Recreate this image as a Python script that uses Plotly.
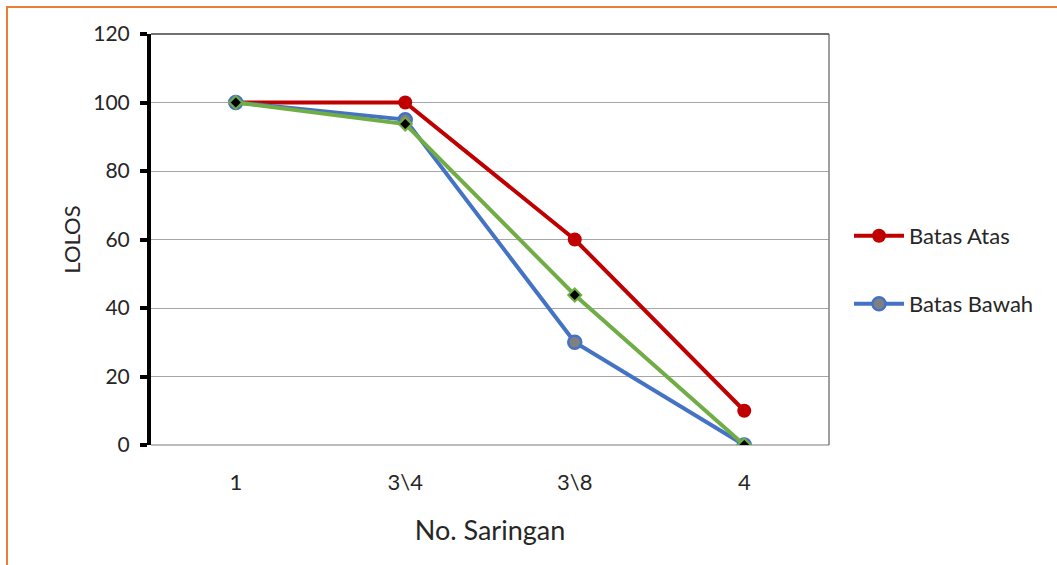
import plotly.graph_objects as go

categories = ["1", "3\\4", "3\\8", "4"]
batas_atas = [100, 100, 60, 10]
batas_bawah = [100, 95, 30, 0]
hasil = [100, 93.7, 43.8, 0]
y_ticks = [0, 20, 40, 60, 80, 100, 120]

FONT = "Lato, 'Open Sans', sans-serif"
L, R, T, B = 151, 1057 - 829, 34, 565 - 445
W, H = 1057, 565
pw, ph = W - L - R, H - T - B

fig = go.Figure()
fig.add_trace(go.Scatter(
    x=categories, y=batas_atas, name="Batas Atas", mode="lines+markers",
    line=dict(color="#C00000", width=4),
    marker=dict(symbol="circle", size=14, color="#C00000"),
    legend="legend",
))
fig.add_trace(go.Scatter(
    x=categories, y=batas_bawah, name="Batas Bawah", mode="lines+markers",
    line=dict(color="#4472C4", width=4),
    marker=dict(symbol="circle", size=13, color="#808080", line=dict(color="#4472C4", width=2.5)),
    legend="legend2",
))
fig.add_trace(go.Scatter(
    x=categories, y=hasil, name="Hasil", mode="lines+markers",
    line=dict(color="#70AD47", width=4),
    marker=dict(symbol="diamond", size=10, color="#000000", line=dict(color="#70AD47", width=2)),
    showlegend=False,
))

# orange outer border
fig.add_shape(type="rect", xref="paper", yref="paper",
              x0=(7 - L) / pw, x1=(1070 - L) / pw,
              y0=1 - (580 - T) / ph, y1=1 + (T - 7) / ph,
              line=dict(color="#ED7D31", width=2), layer="below")

fig.update_layout(
    width=W, height=H,
    margin=dict(l=L, r=R, t=T, b=B),
    paper_bgcolor="white", plot_bgcolor="white",
    font=dict(family=FONT, color="#262626", size=21),
    legend=dict(x=(849 - L) / pw, y=(445 - 236) / ph, xanchor="left", yanchor="middle",
                font=dict(size=22, family=FONT), bgcolor="rgba(0,0,0,0)", itemwidth=50),
    legend2=dict(x=(849 - L) / pw, y=(445 - 304) / ph, xanchor="left", yanchor="middle",
                 font=dict(size=22, family=FONT), bgcolor="rgba(0,0,0,0)", itemwidth=50),
    xaxis=dict(
        type="category", range=[-0.5, 3.5],
        showgrid=False, showline=False, ticks="", zeroline=False,
        tickfont=dict(size=22), ticklabelstandoff=22,
        title=dict(text="No. Saringan", font=dict(size=27), standoff=27),
    ),
    yaxis=dict(
        range=[0, 120], tickvals=y_ticks, showgrid=True, gridcolor="#A6A6A6", gridwidth=1,
        showline=True, linecolor="black", linewidth=4,
        ticks="outside", ticklen=7, tickwidth=4, tickcolor="black",
        tickfont=dict(size=21), zeroline=False, ticklabelstandoff=6,
        title=dict(text="LOLOS", font=dict(size=22), standoff=8),
    ),
)

# plot area border lines (right, top, bottom)
fig.add_shape(type="line", xref="paper", yref="paper", x0=1, x1=1, y0=0, y1=1,
              line=dict(color="#7F7F7F", width=1.5))
fig.add_shape(type="line", xref="paper", yref="paper", x0=0, x1=1, y0=1, y1=1,
              line=dict(color="#404040", width=1.5))
fig.add_shape(type="line", xref="paper", yref="paper", x0=0, x1=1, y0=0, y1=0,
              line=dict(color="#A6A6A6", width=1.5), layer="below")

fig.write_html("out.html",
               config={"displayModeBar": False},
               post_script="document.body.style.margin='0';document.body.style.overflow='hidden';")
